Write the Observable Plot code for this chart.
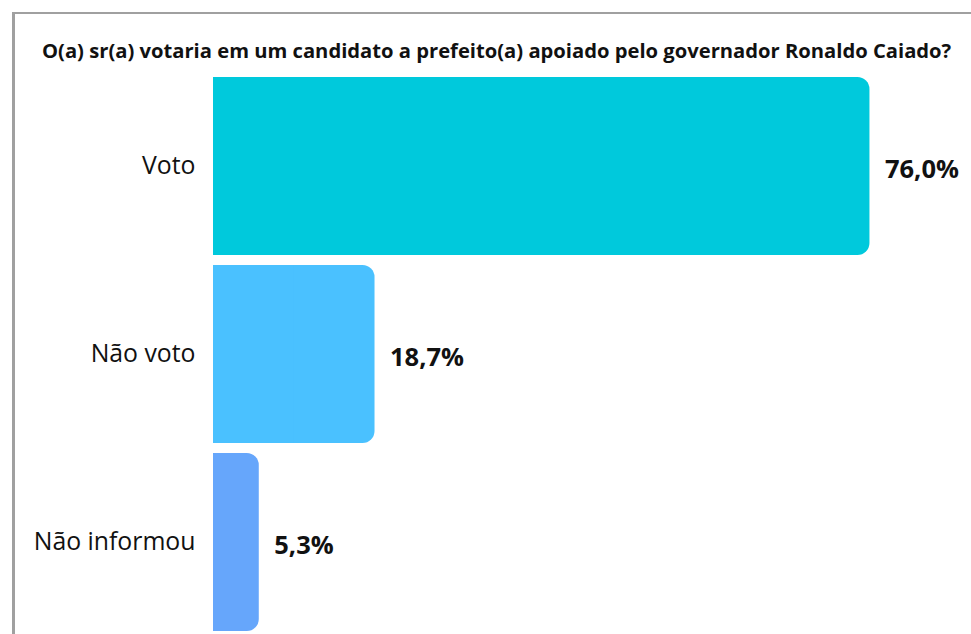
<!DOCTYPE html>
<html>
<head>
<meta charset="utf-8">
<script src="https://cdn.jsdelivr.net/npm/d3@7"></script>
<script src="https://cdn.jsdelivr.net/npm/@observablehq/plot@0.6"></script>
<style>
  html, body { margin: 0; padding: 0; background: #fff; overflow: hidden; width: 971px; height: 634px; }
  #frame { position: absolute; left: 12px; top: 12px; width: 2000px; height: 2000px;
           border-top: 2px solid #a0a0a0; border-left: 3px solid #a0a0a0; box-sizing: border-box; }
  #title { position: absolute; left: 42px; top: 36px; font-family: "Open Sans", sans-serif;
           font-weight: 700; font-size: 20.2px; line-height: 28px; color: #111; white-space: nowrap; }
  #chart { position: absolute; left: 0; top: 0; }
</style>
</head>
<body>
<div id="frame"></div>
<div id="chart"></div>
<div id="title">O(a) sr(a) votaria em um candidato a prefeito(a) apoiado pelo governador Ronaldo Caiado?</div>
<script>
const categories = ["Voto", "Não voto", "Não informou"];
const values = [76.0, 18.7, 5.3];
const labels = ["76,0%", "18,7%", "5,3%"];
const colors = ["#00c9dc", "#4ac1ff", "#66a6fb"];

const data = categories.map((c, i) => ({category: c, value: values[i], label: labels[i], color: colors[i]}));

const chart = Plot.plot({
  width: 971,
  height: 634,
  marginTop: 76,
  marginBottom: 3,
  marginLeft: 213,
  marginRight: 67,
  style: {fontFamily: "'Open Sans', sans-serif", color: "#111", background: "transparent", overflow: "visible"},
  x: {domain: [0, 80], axis: null},
  y: {domain: categories, paddingInner: 0.055, paddingOuter: 0},
  marks: [
    Plot.barX(data, {x1: 0, x2: "value", y: "category", fill: "color", rx: 12}),
    Plot.barX(data, {x1: 0, x2: d => d.value / 2, y: "category", fill: "color"}),
    Plot.text(data, {x: "value", y: "category", text: "label", textAnchor: "start", dx: 15, dy: 3,
                     fontSize: 25.5, fontWeight: 700, fill: "#111"}),
    Plot.axisY({tickSize: 0, tickPadding: 18, fontSize: 24.8, label: null})
  ]
});
document.getElementById("chart").appendChild(chart);
</script>
</body>
</html>
